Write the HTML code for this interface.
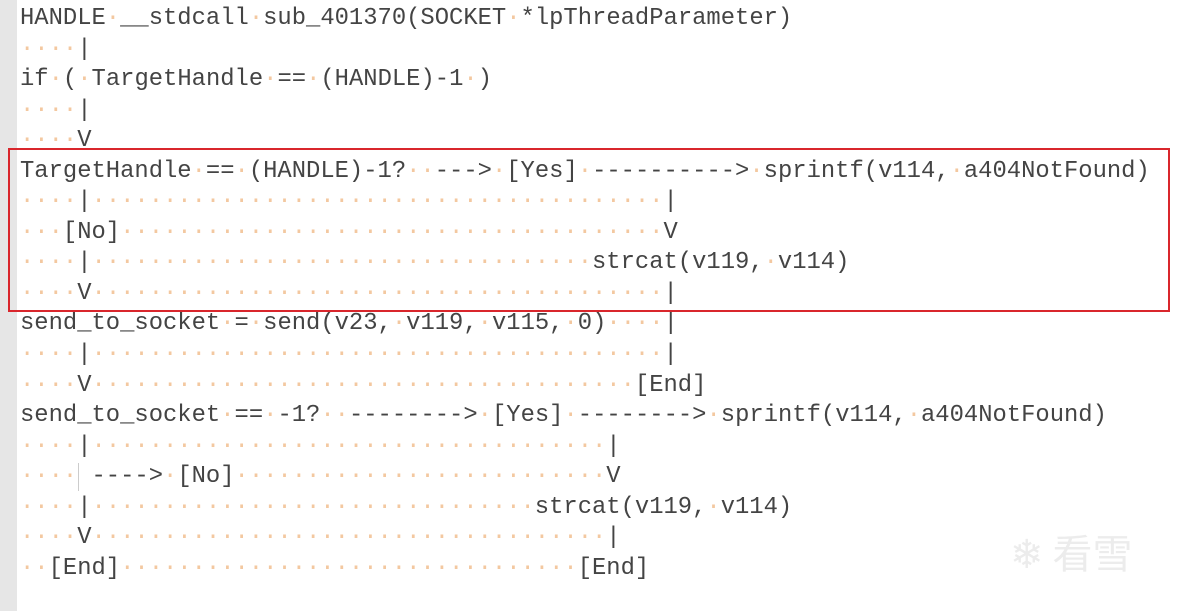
<!DOCTYPE html>
<html><head><meta charset="utf-8"><style>
html,body{margin:0;padding:0;background:#fff;width:1200px;height:611px;overflow:hidden;position:relative}
.g{position:absolute;left:0;top:0;width:17px;height:611px;background:#e6e6e6}
pre{position:absolute;left:20px;top:4px;margin:0;font-family:"Liberation Mono","Courier New",monospace;font-size:23.83px;line-height:30.55px;color:#444;letter-spacing:0}
b{font-weight:normal;color:#f3c8a0}
.box{position:absolute;left:8px;top:148px;width:1158px;height:160px;border:2px solid #d9262c}
.guide{position:absolute;left:78px;top:463px;width:1px;height:28px;background:#ccc}
.wm{position:absolute;left:1010px;top:522px;font-family:"Noto Sans CJK SC",sans-serif;font-size:40px;color:#ececec}
</style></head><body>
<div class="g"></div>
<pre>HANDLE<b>·</b>__stdcall<b>·</b>sub_401370(SOCKET<b>·</b>*lpThreadParameter)
<b>····</b>|
if<b>·</b>(<b>·</b>TargetHandle<b>·</b>==<b>·</b>(HANDLE)-1<b>·</b>)
<b>····</b>|
<b>····</b>V
TargetHandle<b>·</b>==<b>·</b>(HANDLE)-1?<b>··</b>---><b>·</b>[Yes]<b>·</b>----------><b>·</b>sprintf(v114,<b>·</b>a404NotFound)
<b>····</b>|<b>········································</b>|
<b>···</b>[No]<b>······································</b>V
<b>····</b>|<b>···································</b>strcat(v119,<b>·</b>v114)
<b>····</b>V<b>········································</b>|
send_to_socket<b>·</b>=<b>·</b>send(v23,<b>·</b>v119,<b>·</b>v115,<b>·</b>0)<b>····</b>|
<b>····</b>|<b>········································</b>|
<b>····</b>V<b>······································</b>[End]
send_to_socket<b>·</b>==<b>·</b>-1?<b>··</b>--------><b>·</b>[Yes]<b>·</b>--------><b>·</b>sprintf(v114,<b>·</b>a404NotFound)
<b>····</b>|<b>····································</b>|
<b>····</b> ----><b>·</b>[No]<b>··························</b>V
<b>····</b>|<b>·······························</b>strcat(v119,<b>·</b>v114)
<b>····</b>V<b>····································</b>|
<b>··</b>[End]<b>································</b>[End]</pre>
<div class="guide"></div>
<div class="box"></div>
<div class="wm">❄ 看雪</div>
</body></html>
